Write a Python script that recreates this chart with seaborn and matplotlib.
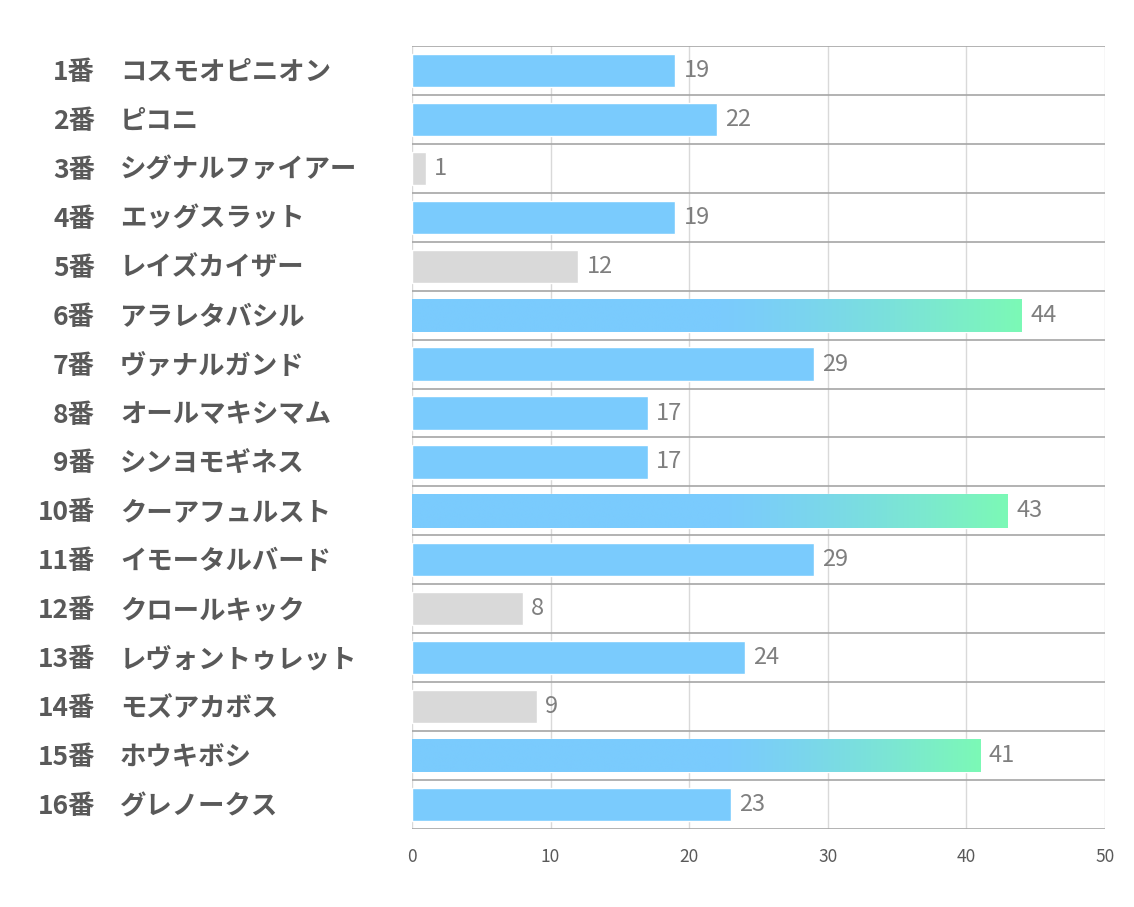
import matplotlib
matplotlib.use("Agg")
import matplotlib.pyplot as plt
from matplotlib.colors import LinearSegmentedColormap
from matplotlib.transforms import blended_transform_factory, offset_copy
import seaborn as sns
import pandas as pd
import numpy as np

numbers = ["1番", "2番", "3番", "4番", "5番", "6番", "7番", "8番",
           "9番", "10番", "11番", "12番", "13番", "14番", "15番", "16番"]
horses = ["コスモオピニオン", "ピコニ", "シグナルファイアー", "エッグスラット",
          "レイズカイザー", "アラレタバシル", "ヴァナルガンド", "オールマキシマム",
          "シンヨモギネス", "クーアフュルスト", "イモータルバード", "クロールキック",
          "レヴォントゥレット", "モズアカボス", "ホウキボシ", "グレノークス"]
scores = [19, 22, 1, 19, 12, 44, 29, 17, 17, 43, 29, 8, 24, 9, 41, 23]

BLUE = "#7acbfd"
GREEN = "#7cf9b6"
GRAY = "#d9d9d9"
FONT = ["Noto Sans CJK JP", "DejaVu Sans"]

sns.set_style("white")
plt.rcParams['font.family'] = FONT

df = pd.DataFrame({"label": [n + h for n, h in zip(numbers, horses)], "score": scores})
ranks = df["score"].rank(method="first", ascending=False)
df["group"] = np.where(ranks <= 3, "top", np.where(ranks > len(df) - 4, "low", "mid"))
palette = {"top": BLUE, "mid": BLUE, "low": GRAY}

fig = plt.figure(figsize=(11.34, 9.07), dpi=100)
ax = fig.add_axes([0.3633, 0.086, 0.6111, 0.8633])

sns.barplot(data=df, x="score", y="label", hue="group", palette=palette,
            orient="h", dodge=False, width=0.68, legend=False, ax=ax, saturation=1)

ax.set_xlim(0, 50)
ax.set_ylim(len(df) - 0.5, -0.5)
ax.set_xticks(range(0, 51, 10))
ax.set_xlabel("")
ax.set_ylabel("")
ax.set_yticks([])
for s in ax.spines.values():
    s.set_visible(False)

# grid
for xv in range(0, 51, 10):
    ax.axvline(xv, color="#d9d9d9", lw=1, zorder=0)
for i in range(len(df) + 1):
    ax.axhline(i - 0.5, color="#a6a6a6", lw=1.2, zorder=0.5)

ax.tick_params(axis="x", length=0, pad=14, labelsize=12.5, labelcolor="#595959")

# gradient fill on the top bars
cmap = LinearSegmentedColormap.from_list("bg", [BLUE, GREEN])
for patch in ax.patches:
    w = patch.get_width()
    if w <= 0:
        continue
    y0 = patch.get_y()
    h = patch.get_height()
    idx = int(round(y0 + h / 2))
    if df["group"].iloc[idx] != "top":
        continue
    xs = np.linspace(0, w, 400)
    start = 22.0
    t = np.clip((xs - start) / (w - start), 0, 1) ** 1.3
    im = ax.imshow(t[np.newaxis, :], cmap=cmap, aspect="auto",
                   extent=[0, w, y0 + h, y0], zorder=patch.get_zorder() + 0.1,
                   vmin=0, vmax=1, interpolation="bilinear")
    im.set_clip_path(patch)
ax.set_xlim(0, 50)
ax.set_ylim(len(df) - 0.5, -0.5)

# value labels
for container in ax.containers:
    labels = [f"{int(v)}" if v > 0 else "" for v in container.datavalues]
    ax.bar_label(container, labels=labels, padding=6, fontsize=17, color="#7f7f7f")

# row labels in two columns, nudged down a couple of pixels
trans = blended_transform_factory(fig.transFigure, ax.transData)
trans = offset_copy(trans, fig=fig, y=-2, units="dots")
for i, (n, h) in enumerate(zip(numbers, horses)):
    ax.text(95 / 1134, i, n, transform=trans, ha="right", va="center",
            fontsize=19, fontweight="bold", color="#595959")
    ax.text(120 / 1134, i, h, transform=trans, ha="left", va="center",
            fontsize=19, fontweight="bold", color="#595959")

fig.savefig("out.png", dpi=100)
